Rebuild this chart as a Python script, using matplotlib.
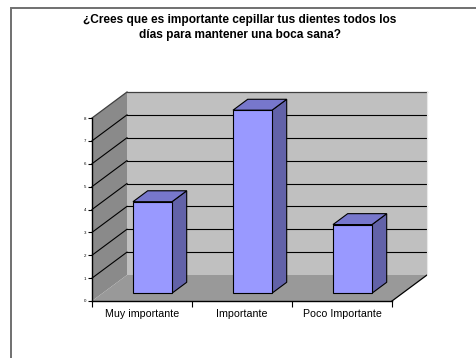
import matplotlib
matplotlib.use("Agg")
import matplotlib.pyplot as plt
from matplotlib.patches import Rectangle

plt.rcParams['font.family'] = ['Liberation Sans', 'DejaVu Sans']

# Data
categories = ["Muy importante", "Importante", "Poco Importante"]
values = [4, 8, 3]
y_ticks = list(range(0, 9))
title = "¿Crees que es importante cepillar tus dientes todos los\ndías para mantener una boca sana?"

# 3D look (depth offset expressed in data units)
DX = 0.35
DY = 26 / 183 * 8
BAR_W = 0.39
F0, F1 = 0.30, 0.72   # bar depth range (fraction of full depth)

FRONT = '#9999FF'
TOP = '#7777CC'
SIDE = '#6262A8'


def proj(x, y, f):
    return x + f * DX, y + f * DY


def face(ax, pts, color, z, ec='black', lw=0.8):
    xs, ys = zip(*pts)
    ax.fill(xs, ys, facecolor=color, edgecolor=ec, linewidth=lw,
            clip_on=False, zorder=z)


def seg(ax, a, b, color, lw, z):
    ax.plot(*zip(a, b), color=color, lw=lw, clip_on=False, zorder=z)


fig = plt.figure(figsize=(4.76, 3.58), dpi=100)
fig.patches.append(Rectangle((11 / 476, -0.2), 1.2, 1 - 8 / 358 + 0.2,
                             transform=fig.transFigure, fill=False,
                             edgecolor='#707070', linewidth=1.4))

ax = fig.add_axes([92 / 476, 57 / 358, 300 / 476, 183 / 358])
ax.set_xlim(0, 3)
ax.set_ylim(0, 8)
ax.patch.set_visible(False)
ymax = y_ticks[-1]
n = len(categories)

# walls and floor
face(ax, [proj(0, 0, 1), proj(n, 0, 1), proj(n, ymax, 1), proj(0, ymax, 1)],
     '#C0C0C0', 0.5, ec='none', lw=0)
face(ax, [proj(0, 0, 0), proj(0, ymax, 0), proj(0, ymax, 1), proj(0, 0, 1)],
     '#8A8A8A', 0.6, ec='none', lw=0)
face(ax, [proj(0, 0, 0), proj(n, 0, 0), proj(n, 0, 1), proj(0, 0, 1)],
     '#999999', 0.7, ec='none', lw=0)
seg(ax, proj(n, 0, 0), proj(n, 0, 1), 'black', 0.9, 0.8)
seg(ax, proj(0, ymax, 1), proj(n, ymax, 1), '#404040', 0.9, 0.8)
seg(ax, proj(0, ymax, 0), proj(0, ymax, 1), '#404040', 0.9, 0.8)
seg(ax, proj(n, 0, 1), proj(n, ymax, 1), '#E8E8E8', 0.8, 0.8)

# gridlines
for k in y_ticks[1:-1]:
    seg(ax, proj(0, k, 1), proj(n, k, 1), 'black', 0.8, 0.65)
    seg(ax, proj(0, k, 0), proj(0, k, 1), 'black', 0.8, 0.65)

# bars
for i, v in enumerate(values):
    x0 = i + 0.5 - BAR_W / 2
    x1 = i + 0.5 + BAR_W / 2
    face(ax, [proj(x1, 0, F0), proj(x1, v, F0), proj(x1, v, F1), proj(x1, 0, F1)], SIDE, 2)
    face(ax, [proj(x0, v, F0), proj(x1, v, F0), proj(x1, v, F1), proj(x0, v, F1)], TOP, 2)
    face(ax, [proj(x0, 0, F0), proj(x1, 0, F0), proj(x1, v, F0), proj(x0, v, F0)], FRONT, 2.1)

# axes
for s in ['top', 'right']:
    ax.spines[s].set_visible(False)
ax.spines['left'].set_linewidth(1.0)
ax.spines['bottom'].set_linewidth(1.0)
ax.set_yticks(y_ticks)
ax.set_yticklabels([str(t) for t in y_ticks], fontsize=3.2)
ax.tick_params(axis='y', length=3, width=0.8, pad=1)
ax.set_xticks(range(n + 1))
ax.set_xticklabels([])
ax.set_xticks([i + 0.5 for i in range(n)], minor=True)
ax.set_xticklabels(categories, minor=True, fontsize=7.7)
ax.tick_params(axis='x', which='major', length=4, width=0.8)
ax.tick_params(axis='x', which='minor', length=0, pad=6)

fig.text(240 / 476, 1 - 14.5 / 358, title, ha='center', va='top',
         fontsize=8.6, fontweight='bold', linespacing=1.25)

fig.savefig('out.png', dpi=100)
